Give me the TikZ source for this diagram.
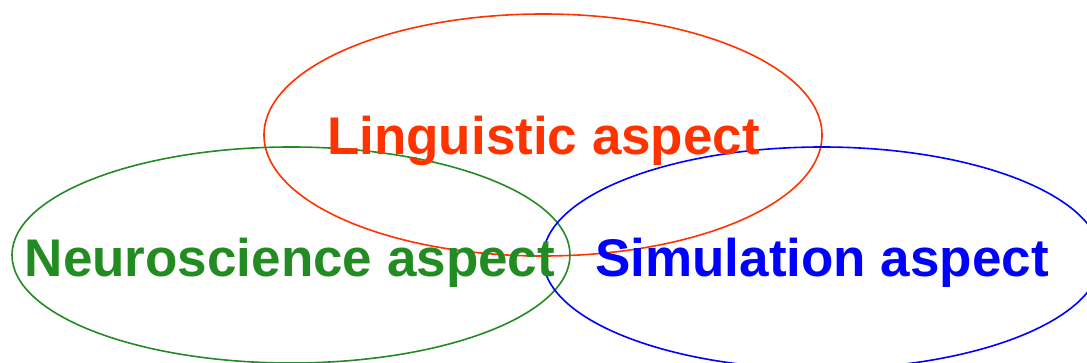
\documentclass[tikz,border=0pt]{standalone}
\usepackage{fontspec}
\setmainfont{Liberation Sans}
\definecolor{lingred}{RGB}{255,51,0}
\definecolor{neurogreen}{RGB}{34,139,34}
\definecolor{simblue}{RGB}{0,0,255}
\begin{document}
\begin{tikzpicture}[x=1pt,y=-1pt,
  aspectring/.style={line width=1.6pt},
  aspectlabel/.style={anchor=base,inner sep=0pt,font=\fontsize{53}{60}\selectfont\bfseries}]
\useasboundingbox (0,0) rectangle (1087,363);
\draw[aspectring,lingred] (543,135) ellipse [x radius=279, y radius=121];
\draw[aspectring,neurogreen] (291,255) ellipse [x radius=279, y radius=108];
\draw[aspectring,simblue] (822,258) ellipse [x radius=279, y radius=111];
\node[aspectlabel,text=lingred] (ling) at (543.5,155) {Linguistic aspect};
\node[aspectlabel,text=neurogreen] (neuro) at (290,277) {Neuroscience aspect};
\node[aspectlabel,text=simblue] (sim) at (822,277) {Simulation aspect};
\end{tikzpicture}
\end{document}
